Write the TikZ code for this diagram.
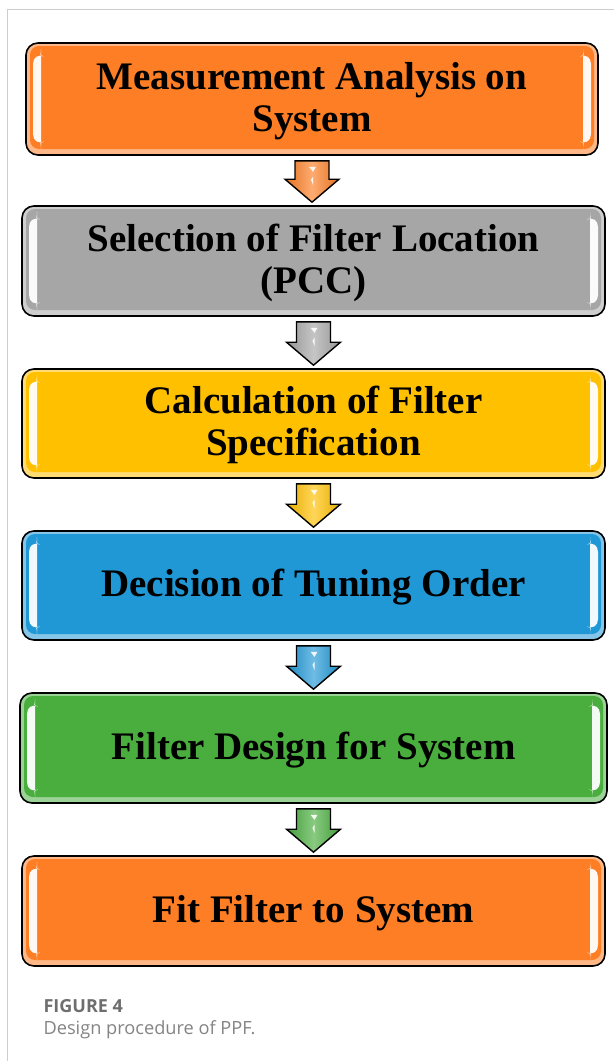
\documentclass[tikz,border=0pt]{standalone}
\usepackage{fontspec}
\setmainfont{Liberation Serif}
\newfontfamily\capfont{Open Sans}
\usetikzlibrary{calc}

\definecolor{stepOrange}{RGB}{253,126,36}
\definecolor{stepGray}{RGB}{166,166,166}
\definecolor{stepYellow}{RGB}{255,192,0}
\definecolor{stepBlue}{RGB}{33,152,214}
\definecolor{stepGreen}{RGB}{74,174,62}
\definecolor{frameGray}{RGB}{205,205,205}
\definecolor{capGray}{RGB}{110,110,110}

% step label, lowered slightly inside its box
\newcommand\steptext[1]{\raisebox{-3pt}[\height][\depth]{\begin{tabular}{@{}c@{}}#1\end{tabular}}}

\tikzset{
  x=1pt, y={(0,-1pt)},
  glossy/.style={
    draw=black, line width=1.6pt, rounded corners=12pt,
    fill=#1!55!white,
    align=center, text=black,
    font=\fontsize{39}{42}\selectfont\bfseries,
    path picture={
      % base colour inside a light bevel rim
      \fill[#1, rounded corners=9pt]
        ([xshift=4pt,yshift=6pt]path picture bounding box.south west)
        rectangle ([xshift=-4pt,yshift=-3pt]path picture bounding box.north east);
      % glossy vertical highlights near both ends
      \fill[#1!6!white]
        ([xshift=7pt,yshift=-9pt]path picture bounding box.north west)
        .. controls +(5,2) and +(0,-4) .. ++(8,9)
        -- ([xshift=15pt,yshift=18pt]path picture bounding box.south west)
        .. controls +(0,4) and +(5,-2) .. ++(-8,9) -- cycle;
      \fill[#1!6!white]
        ([xshift=-7pt,yshift=-9pt]path picture bounding box.north east)
        .. controls +(-5,2) and +(0,-4) .. ++(-8,9)
        -- ([xshift=-15pt,yshift=18pt]path picture bounding box.south east)
        .. controls +(0,4) and +(-5,-2) .. ++(8,9) -- cycle;
    }
  },
  flowarrow/.style={draw=black, line width=1.4pt, line join=miter,
    left color=#1!90!black, right color=#1!90!black, middle color=#1!65!white},
  glint/.style={fill=white, opacity=0.9},
  frameline/.style={draw=frameGray, line width=1pt},
  capbold/.style={anchor=base west, text=capGray, font=\capfont\bfseries\fontsize{18}{22}\selectfont},
  capnorm/.style={anchor=base west, text=capGray!85!white, font=\capfont\fontsize{18.2}{22}\selectfont},
}

% block arrow pointing down from node #1 to node #2
\newcommand\flowdown[3]{%
  \path[flowarrow=#3] let \p1=(#1.south), \p2=(#2.north) in
    (\x1-17pt,\y1-5pt) -- (\x1+17pt,\y1-5pt) -- (\x1+17pt,\y2+26pt)
    -- (\x1+27pt,\y2+26pt) -- (\x1,\y2+3pt) -- (\x1-27pt,\y2+26pt)
    -- (\x1-17pt,\y2+26pt) -- cycle;
  \path[glint] let \p1=(#1.south) in
    (\x1-3pt,\y1-11pt) -- (\x1+4pt,\y1-11pt) -- (\x1+1pt,\y1-16pt) -- cycle
    (\x1-1pt,\y1-24pt) -- (\x1+1pt,\y1-21pt) -- (\x1+1pt,\y1-29pt) -- cycle;
}

\begin{document}
\begin{tikzpicture}
\useasboundingbox (0,0) rectangle (614,1061);

% page frame
\draw[frameline] (7,1061) -- (7,9) -- (614,9);

% procedure steps
\node[glossy=stepOrange, minimum width=572pt, minimum height=112pt] (s1) at (312,99)
  {\steptext{Measurement Analysis on\\System}};
\node[glossy=stepGray, minimum width=583pt, minimum height=110pt] (s2) at (313.5,261)
  {\steptext{Selection of Filter Location\\(PCC)}};
\node[glossy=stepYellow, minimum width=583pt, minimum height=109pt] (s3) at (313.5,423.5)
  {\steptext{Calculation of Filter\\Specification}};
\node[glossy=stepBlue, minimum width=583pt, minimum height=109pt] (s4) at (313.5,585.5)
  {\steptext{Decision of Tuning Order}};
\node[glossy=stepGreen, minimum width=587pt, minimum height=110pt] (s5) at (313.5,748)
  {\steptext{Filter Design for System}};
\node[glossy=stepOrange, minimum width=583pt, minimum height=110pt] (s6) at (313.5,911)
  {\steptext{Fit Filter to System}};

% connectors
\flowdown{s1}{s2}{stepOrange}
\flowdown{s2}{s3}{stepGray}
\flowdown{s3}{s4}{stepYellow}
\flowdown{s4}{s5}{stepBlue}
\flowdown{s5}{s6}{stepGreen}

% caption
\node[capbold] (fig) at (40,1012) {FIGURE 4};
\node[capnorm] (cap) at (40,1034) {Design procedure of PPF.};
\end{tikzpicture}
\end{document}
